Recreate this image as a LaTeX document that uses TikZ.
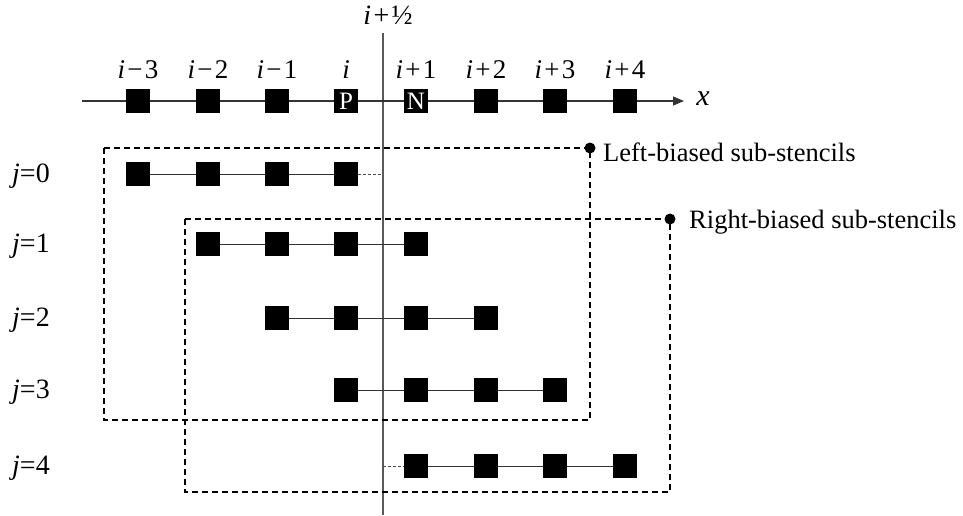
\documentclass[tikz,border=0pt]{standalone}
\usepackage{fontspec}
\setmainfont{Liberation Serif}
\usetikzlibrary{arrows.meta}
\tikzset{
  cell/.style={rectangle, fill=black, draw=none, minimum size=24pt, inner sep=0pt},
  idxlbl/.style={font=\fontsize{27}{30}\selectfont, inner sep=0pt},
  jlbl/.style={font=\fontsize{28}{32}\selectfont, inner sep=0pt},
  leglbl/.style={font=\fontsize{26.5}{30}\selectfont, inner sep=0pt, anchor=west},
  cellletter/.style={text=white, font=\fontsize{25}{25}\selectfont},
  link/.style={draw=black!80, line width=1pt},
  halflink/.style={draw=black!70, line width=1pt, dash pattern=on 3pt off 2pt},
  stencilbox/.style={draw=black, line width=1.4pt, dash pattern=on 6pt off 4pt},
  facet/.style={draw=black!65, line width=1.5pt},
  tagdot/.style={circle, fill=black, inner sep=0pt, minimum size=11pt}
}
\newcommand{\opsp}{\hspace{0.08em}}
\begin{document}
\begin{tikzpicture}[x=1pt, y=-1pt]
\useasboundingbox (0,0) rectangle (963,515);

% interface i+1/2
\coordinate (ftop) at (383,33);
\coordinate (fbot) at (383,515);
\draw[facet] (ftop) -- (fbot);
\node[idxlbl, font=\fontsize{28}{30}\selectfont] (fl) at (388,15) {\textit{i}\opsp+\opsp½};

% grid axis with cell centres
\node[cell] (a1) at (138,101) {};
\node[cell] (a2) at (208,101) {};
\node[cell] (a3) at (277,101) {};
\node[cell, cellletter] (a4) at (346,101) {P};
\node[cell, cellletter] (a5) at (416,101) {N};
\node[cell] (a6) at (486,101) {};
\node[cell] (a7) at (555,101) {};
\node[cell] (a8) at (625,101) {};
\coordinate (axs) at (82,101);
\coordinate (axe) at (684,101);
\draw[link, line width=1.2pt] (axs) -- (a1) -- (a2) -- (a3) -- (a4) -- (a5) -- (a6) -- (a7) -- (a8);
\draw[link, line width=1.2pt, -{Triangle[length=11pt, width=9pt]}] (a8) -- (axe);
\node[font=\fontsize{30}{32}\selectfont, inner sep=0pt] (xl) at (703,99) {\textit{x}};

\node[idxlbl] (t1) at (138,70) {\textit{i}\opsp−\opsp3};
\node[idxlbl] (t2) at (208,70) {\textit{i}\opsp−\opsp2};
\node[idxlbl] (t3) at (277,70) {\textit{i}\opsp−\opsp1};
\node[idxlbl] (t4) at (346,70) {\textit{i}};
\node[idxlbl] (t5) at (416,70) {\textit{i}\opsp+\opsp1};
\node[idxlbl] (t6) at (486,70) {\textit{i}\opsp+\opsp2};
\node[idxlbl] (t7) at (555,70) {\textit{i}\opsp+\opsp3};
\node[idxlbl] (t8) at (625,70) {\textit{i}\opsp+\opsp4};

% sub-stencils j = 0 .. 4
\node[cell] (s01) at (138,174) {};
\node[cell] (s02) at (208,174) {};
\node[cell] (s03) at (277,174) {};
\node[cell] (s04) at (346,174) {};
\coordinate (f0) at (383,174);
\draw[link] (s01) -- (s02) -- (s03) -- (s04);
\draw[halflink] (s04) -- (f0);

\node[cell] (s12) at (208,244) {};
\node[cell] (s13) at (277,244) {};
\node[cell] (s14) at (346,244) {};
\node[cell] (s15) at (416,244) {};
\draw[link] (s12) -- (s13) -- (s14) -- (s15);

\node[cell] (s23) at (277,318) {};
\node[cell] (s24) at (346,318) {};
\node[cell] (s25) at (416,318) {};
\node[cell] (s26) at (486,318) {};
\draw[link] (s23) -- (s24) -- (s25) -- (s26);

\node[cell] (s34) at (346,390) {};
\node[cell] (s35) at (416,390) {};
\node[cell] (s36) at (486,390) {};
\node[cell] (s37) at (555,390) {};
\draw[link] (s34) -- (s35) -- (s36) -- (s37);

\coordinate (f4) at (383,466);
\node[cell] (s45) at (416,466) {};
\node[cell] (s46) at (486,466) {};
\node[cell] (s47) at (555,466) {};
\node[cell] (s48) at (625,466) {};
\draw[halflink] (f4) -- (s45);
\draw[link] (s45) -- (s46) -- (s47) -- (s48);

\node[jlbl] (j0) at (31,176) {\textit{j}=0};
\node[jlbl] (j1) at (31,246) {\textit{j}=1};
\node[jlbl] (j2) at (31,320) {\textit{j}=2};
\node[jlbl] (j3) at (31,392) {\textit{j}=3};
\node[jlbl] (j4) at (31,468) {\textit{j}=4};

% left- and right-biased groups
\draw[stencilbox] (104,148) rectangle (590,420);
\node[tagdot] (dl) at (590,148) {};
\node[leglbl] (ll) at (603,152) {Left-biased sub-stencils};

\draw[stencilbox] (185,219) rectangle (670,492);
\node[tagdot] (dr) at (670,219) {};
\node[leglbl] (rl) at (689,222) {Right-biased sub-stencils};
\end{tikzpicture}
\end{document}
